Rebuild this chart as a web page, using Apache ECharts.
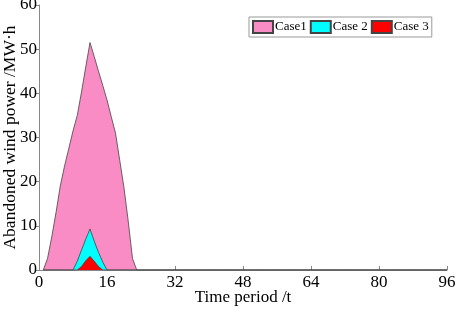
<!DOCTYPE html>
<html>
<head>
<meta charset="utf-8">
<script src="https://cdn.jsdelivr.net/npm/echarts@6/dist/echarts.min.js"></script>
<style>html,body{margin:0;padding:0;background:#fff}#c{width:457px;height:309px}</style>
</head>
<body>
<div id="c"></div>
<script>
const seriesNames = ['Case1', 'Case 2', 'Case 3'];
const xTicks = [0, 16, 32, 48, 64, 80, 96];
const yTicks = [0, 10, 20, 30, 40, 50, 60];
// values for time periods 1..96
const case1 = [0, 2.6, 7.5, 13, 19, 23.5, 27.5, 31.5, 35, 40.3, 46, 51.5, 48.3, 45, 41.8, 38.5, 34.7, 31, 24.8, 18.6, 11, 2.6, 0, 0,
  0, 0, 0, 0, 0, 0, 0, 0, 0, 0, 0, 0, 0, 0, 0, 0, 0, 0, 0, 0, 0, 0, 0, 0,
  0, 0, 0, 0, 0, 0, 0, 0, 0, 0, 0, 0, 0, 0, 0, 0, 0, 0, 0, 0, 0, 0, 0, 0,
  0, 0, 0, 0, 0, 0, 0, 0, 0, 0, 0, 0, 0, 0, 0, 0, 0, 0, 0, 0, 0, 0, 0, 0];
const case2 = [0, 0, 0, 0, 0, 0, 0, 0, 2, 4.5, 7, 9.3, 6.5, 4, 1.8, 0, 0, 0, 0, 0, 0, 0, 0, 0,
  0, 0, 0, 0, 0, 0, 0, 0, 0, 0, 0, 0, 0, 0, 0, 0, 0, 0, 0, 0, 0, 0, 0, 0,
  0, 0, 0, 0, 0, 0, 0, 0, 0, 0, 0, 0, 0, 0, 0, 0, 0, 0, 0, 0, 0, 0, 0, 0,
  0, 0, 0, 0, 0, 0, 0, 0, 0, 0, 0, 0, 0, 0, 0, 0, 0, 0, 0, 0, 0, 0, 0, 0];
const case3 = [0, 0, 0, 0, 0, 0, 0, 0, 0, 0.8, 2.1, 3.1, 2, 0.8, 0, 0, 0, 0, 0, 0, 0, 0, 0, 0,
  0, 0, 0, 0, 0, 0, 0, 0, 0, 0, 0, 0, 0, 0, 0, 0, 0, 0, 0, 0, 0, 0, 0, 0,
  0, 0, 0, 0, 0, 0, 0, 0, 0, 0, 0, 0, 0, 0, 0, 0, 0, 0, 0, 0, 0, 0, 0, 0,
  0, 0, 0, 0, 0, 0, 0, 0, 0, 0, 0, 0, 0, 0, 0, 0, 0, 0, 0, 0, 0, 0, 0, 0];
const colors = ['#F98CC4', '#00FFFF', '#FF0000'];

const font = 'Liberation Serif';
function pairs(vals) { return vals.map((v, i) => [i + 1, v]); }
const data = [case1, case2, case3];

const chart = echarts.init(document.getElementById('c'), null, {renderer: 'canvas'});
chart.setOption({
  animation: false,
  textStyle: {fontFamily: font},
  grid: {left: 39, right: 10, top: 5, bottom: 39, containLabel: false, outerBoundsMode: 'none'},
  legend: {
    left: 249, top: 17,
    orient: 'horizontal',
    data: seriesNames,
    itemWidth: 20, itemHeight: 12, itemGap: 3,
    padding: [3, 3, 3, 3],
    borderColor: '#999', borderWidth: 1, borderRadius: 0,
    textStyle: {fontFamily: font, fontSize: 13, color: '#000', padding: [0, 0, 0, -3]},
    icon: 'rect'
  },
  xAxis: {
    type: 'value', min: 0, max: 96, interval: 16,
    name: 'Time period /t', nameLocation: 'middle', nameGap: 19, nameMoveOverlap: false,
    nameTextStyle: {fontFamily: font, fontSize: 17, color: '#000'},
    axisLine: {lineStyle: {color: '#888'}},
    axisTick: {inside: true, length: 4, lineStyle: {color: '#888'}},
    axisLabel: {fontFamily: font, fontSize: 17, color: '#000', margin: 4,
      formatter: v => xTicks.includes(v) ? String(v) : ''},
    splitLine: {show: false}
  },
  yAxis: {
    type: 'value', min: 0, max: 60, interval: 10,
    name: 'Abandoned wind power /MW·h', nameLocation: 'middle', nameGap: 20, nameMoveOverlap: false,
    nameTextStyle: {fontFamily: font, fontSize: 17.5, color: '#000'},
    axisLine: {show: true, lineStyle: {color: '#888'}},
    axisTick: {show: true, inside: false, length: 3, lineStyle: {color: '#888'}},
    axisLabel: {fontFamily: font, fontSize: 17, color: '#000', margin: 2,
      formatter: v => yTicks.includes(v) ? String(v) : ''},
    splitLine: {show: false}
  },
  series: seriesNames.map((n, i) => ({
    name: n, type: 'line', data: pairs(data[i]),
    showSymbol: false, symbol: 'none',
    lineStyle: {color: '#444', width: 0.8},
    itemStyle: {color: colors[i], borderColor: '#444', borderWidth: 1},
    areaStyle: {color: colors[i], opacity: 1},
    z: 2 + i
  }))
});
</script>
</body>
</html>
